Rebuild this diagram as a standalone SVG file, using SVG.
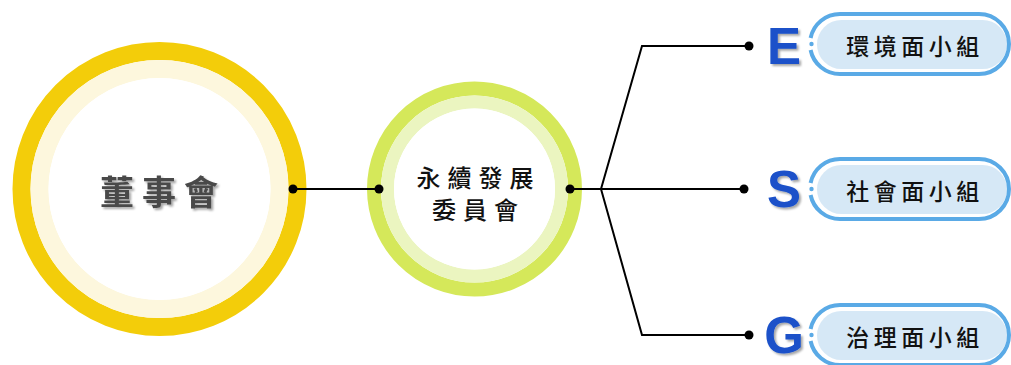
<svg xmlns="http://www.w3.org/2000/svg" width="1011" height="365" viewBox="0 0 1011 365">
<defs>
<style>
.bg{fill:#ffffff}
.conn{fill:none;stroke:#000;stroke-width:2}
.dot{fill:#000}
.cjk{font-family:"Noto Sans CJK TC","Noto Sans CJK SC",sans-serif}
.main{font-size:34px;font-weight:700;fill:#4a4a4a;letter-spacing:8px}
.mid{font-size:24px;font-weight:500;fill:#111;letter-spacing:7px}
.pilltxt{font-size:23px;font-weight:500;fill:#111;letter-spacing:4.5px}
.letter{font-family:"Liberation Sans",Arial,sans-serif;font-weight:700;font-size:51px;fill:#1a51c9}
.pillout{fill:none;stroke:#5aaae6;stroke-width:4}
.pillin{fill:#d6e8f6}
.pdot{fill:#5aaae6}
</style>
<filter id="sh" x="-20%" y="-20%" width="150%" height="150%">
<feDropShadow dx="2" dy="2" stdDeviation="1.2" flood-color="#000" flood-opacity="0.35"/>
</filter>
</defs>
<rect class="bg" x="0" y="0" width="1011" height="365"/>

<g id="board">
<circle cx="159.5" cy="189" r="138" fill="none" stroke="#f3cd0a" stroke-width="18"/>
<circle cx="159.5" cy="189" r="120" fill="none" stroke="#fdf7dd" stroke-width="18"/>
<circle cx="159.5" cy="189" r="111" fill="#ffffff"/>
<text class="cjk main" x="163" y="205" text-anchor="middle" filter="url(#sh)">董事會</text>
</g>

<g id="committee">
<circle cx="474.5" cy="189" r="100.5" fill="none" stroke="#d5e85a" stroke-width="14"/>
<circle cx="474.5" cy="189" r="87" fill="none" stroke="#ebf5c0" stroke-width="13"/>
<circle cx="474.5" cy="189" r="80.5" fill="#ffffff"/>
<text class="cjk mid" x="478.5" y="187" text-anchor="middle">永續發展</text>
<text class="cjk mid" x="478.5" y="219" text-anchor="middle">委員會</text>
</g>

<g id="connectors">
<line class="conn" x1="293" y1="189" x2="379" y2="189"/>
<polyline class="conn" points="570,189 601,189"/>
<polyline class="conn" points="601,189 642,46 749,46"/>
<polyline class="conn" points="601,189 744,189"/>
<polyline class="conn" points="601,189 642,335 749,335"/>
<circle class="dot" cx="293" cy="189" r="4.5"/>
<circle class="dot" cx="379" cy="189" r="4.5"/>
<circle class="dot" cx="570" cy="189" r="4.5"/>
<circle class="dot" cx="749" cy="46" r="4.5"/>
<circle class="dot" cx="744" cy="189" r="4.5"/>
<circle class="dot" cx="749" cy="335" r="4.5"/>
</g>

<g id="group-e">
<text class="letter" x="784" y="64" text-anchor="middle" filter="url(#sh)">E</text>
<rect class="pillin" x="817" y="20" width="190" height="49" rx="24.5"/>
<path class="pillout" d="M810.6 50 A30 30 0 0 0 840 74 H979 A30 30 0 0 0 979 14 H840 A30 30 0 0 0 810.6 38"/>
<circle class="pdot" cx="811.5" cy="44" r="2.2"/>
<text class="cjk pilltxt" x="915" y="55" text-anchor="middle">環境面小組</text>
</g>

<g id="group-s">
<text class="letter" x="784" y="207" text-anchor="middle" filter="url(#sh)">S</text>
<rect class="pillin" x="817" y="165" width="190" height="49" rx="24.5"/>
<path class="pillout" d="M810.6 195 A30 30 0 0 0 840 219 H979 A30 30 0 0 0 979 159 H840 A30 30 0 0 0 810.6 183"/>
<circle class="pdot" cx="811.5" cy="189" r="2.2"/>
<text class="cjk pilltxt" x="915" y="200" text-anchor="middle">社會面小組</text>
</g>

<g id="group-g">
<text class="letter" x="784" y="353" text-anchor="middle" filter="url(#sh)">G</text>
<rect class="pillin" x="817" y="311" width="190" height="49" rx="24.5"/>
<path class="pillout" d="M810.6 341 A30 30 0 0 0 840 365 H979 A30 30 0 0 0 979 305 H840 A30 30 0 0 0 810.6 329"/>
<circle class="pdot" cx="811.5" cy="335" r="2.2"/>
<text class="cjk pilltxt" x="915" y="346" text-anchor="middle">治理面小組</text>
</g>
</svg>
